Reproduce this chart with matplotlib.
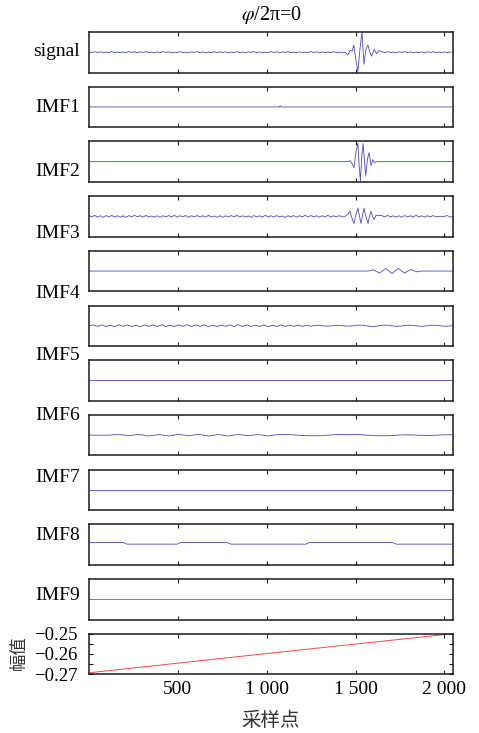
import numpy as np
import matplotlib
matplotlib.use('Agg')
import matplotlib.pyplot as plt

plt.rcParams['font.family'] = ['Liberation Serif', 'DejaVu Serif']
plt.rcParams['mathtext.fontset'] = 'stix'

# ---------------- data ----------------
N = 2048
title_text = r'$\varphi$/2π=0'
panel_labels = ['signal', 'IMF1', 'IMF2', 'IMF3', 'IMF4', 'IMF5', 'IMF6', 'IMF7', 'IMF8', 'IMF9']
xtick_vals = [500, 1000, 1500, 2000]
xtick_labels = ['500', '1 000', '1 500', '2 000']
res_ytick_vals = [-0.27, -0.265, -0.26, -0.255, -0.25]
res_ytick_labels = ['−0.27', '', '−0.26', '', '−0.25']
xlabel_text = '采样点'
ylabel_text = '幅值'

# signal: background jitter (every 16 samples) + burst
signal_pre = [0.02, -0.02, 0.03, -0.01, 0.02, -0.03, 0.01, -0.02, 0.03, -0.02,
              0.01, -0.03, 0.02, -0.02, 0.03, -0.01, 0.02, -0.03, 0.02, -0.01,
              0.03, -0.02, 0.01, -0.03, 0.02, -0.02, 0.03, -0.01, 0.02, -0.03,
              0.01, -0.02, 0.03, -0.02, 0.01, -0.03, 0.02, -0.01, 0.03, -0.02,
              0.02, -0.03, 0.01, -0.02, 0.03, -0.02, 0.02, -0.01, 0.02, -0.03,
              0.01, -0.02, 0.03, -0.02, 0.01, -0.03, 0.02, -0.01, 0.03, -0.02,
              0.02, -0.03, 0.01, -0.02, 0.03, -0.01, 0.02, -0.03, 0.02, -0.01,
              0.03, -0.02, 0.01, -0.03, 0.02, -0.02, 0.01, -0.02, 0.03, -0.01,
              0.02, -0.03, 0.02, -0.02, 0.01, -0.02, 0.03, -0.02, 0.01, -0.02,
              0.0]
signal_burst_x = [1457, 1470, 1480, 1490, 1500, 1513, 1525, 1536, 1547, 1558, 1570, 1580, 1590, 1604, 1618, 1632]
signal_burst_y = [-0.12, 0.1, 0.05, 0.35, -0.3, -0.95, 0.2, 1.0, -0.6, 0.15, 0.35, 0.0, -0.2, 0.15, -0.06, 0.08]
signal_post = [0.03, -0.02, 0.03, -0.02, 0.01, -0.03, 0.02, -0.01, 0.03, -0.02,
               0.02, -0.03, 0.01, -0.02, 0.02, -0.03, 0.02, -0.01, 0.03, -0.02,
               0.01, -0.02, 0.02, -0.03, 0.02, 0.0]

# IMF1: flat with a single tiny blip
imf1_x = [0, 1070, 1075, 1080, 2047]
imf1_y = [0.0, 0.0, 0.06, 0.0, 0.0]

# IMF2: burst only
imf2_x = [0, 1460, 1470, 1480, 1491, 1502, 1513, 1520, 1527, 1535, 1542, 1550, 1557, 1566, 1576, 1587, 1596, 1606, 1620, 2047]
imf2_y = [0.0, 0.0, 0.05, -0.1, -0.3, 0.5, 0.9, -0.2, -0.95, 0.3, 0.9, 0.0, -0.7, 0.1, 0.45, -0.2, 0.1, -0.05, 0.0, 0.0]

# IMF3: jitter (every 16 samples) + medium burst
imf3_pre = [0.04, -0.03, 0.05, -0.04, 0.03, -0.05, 0.04, -0.03, 0.05, -0.04,
            0.03, -0.04, 0.03, -0.05, 0.04, -0.03, 0.05, -0.02, 0.03, -0.04,
            0.05, -0.03, 0.02, -0.04, 0.03, -0.05, 0.03, -0.03, 0.04, -0.03,
            0.05, -0.04, 0.03, -0.02, 0.04, -0.05, 0.03, -0.03, 0.04, -0.03,
            0.03, -0.04, 0.05, -0.03, 0.02, -0.04, 0.03, -0.05, 0.03, -0.03,
            0.04, -0.03, 0.05, -0.03, 0.03, -0.04, 0.02, -0.05, 0.04, -0.03,
            0.03, -0.04, 0.05, -0.03, 0.03, -0.04, 0.04, -0.03, 0.02, -0.05,
            0.03, -0.03, 0.04, -0.04, 0.03, -0.03, 0.05, -0.03, 0.04, -0.03,
            0.03, -0.04, 0.03, -0.03, 0.05, -0.04, 0.03, -0.03, 0.04, -0.03,
            0.0]
imf3_burst_x = [1455, 1468, 1480, 1491, 1502, 1513, 1522, 1530, 1538, 1547, 1558, 1570, 1578, 1587, 1595, 1604, 1615, 1632]
imf3_burst_y = [0.1, 0.25, -0.1, -0.35, 0.1, 0.4, 0.0, -0.35, 0.0, 0.4, 0.0, -0.35, 0.0, 0.25, 0.0, -0.15, 0.05, 0.04]
imf3_post = [0.04, -0.03, 0.05, -0.03, 0.03, -0.04, 0.03, -0.05, 0.04, -0.03,
             0.03, -0.04, 0.05, -0.03, 0.03, -0.04, 0.03, -0.03, 0.04, -0.03,
             0.0, 0.0, 0.0, 0.04, -0.04, 0.0]

# IMF4: small wave packet
imf4_x = [0, 1570, 1600, 1635, 1670, 1705, 1740, 1775, 1810, 1845, 1870, 2047]
imf4_y = [0.0, 0.0, 0.06, -0.1, 0.13, -0.13, 0.13, -0.1, 0.08, -0.04, 0.0, 0.0]

# IMF5: fine wiggle (every 24 samples)
imf5_vals = [0.0, 0.04, -0.03, 0.04, -0.04, 0.03, -0.04, 0.05, -0.03, 0.04,
             -0.04, 0.03, -0.05, 0.04, -0.03, 0.04, -0.04, 0.05, -0.04, 0.03,
             -0.04, 0.04, -0.03, 0.05, -0.04, 0.04, -0.03, 0.04, -0.05, 0.03,
             -0.04, 0.04, -0.03, 0.04, -0.04, 0.05, -0.03, 0.04, -0.04, 0.03,
             -0.04, 0.04, -0.05, 0.03, -0.04, 0.04, -0.03, 0.03, -0.03, 0.03,
             -0.03, 0.02, -0.02,
             0.02, 0.02, -0.01, -0.02, 0.0, 0.02, 0.01, -0.01, -0.02, 0.0,
             0.03, 0.03, 0.0, -0.03, -0.03, 0.0, 0.03, 0.03, 0.0, -0.03,
             -0.02, 0.01, 0.03, 0.02, -0.01, -0.03, -0.01, 0.02, 0.03, 0.01,
             -0.02, -0.02, 0.0]
imf5_last = 0.0

# IMF6 flat
imf6_x = [0, 2047]
imf6_y = [0.0, 0.0]

# IMF7: slow wiggle (every 56 samples)
imf7_vals = [0.0, 0.0, 0.0, 0.04, -0.03, 0.04, -0.04, 0.03, -0.04, 0.04,
             -0.03, 0.04, -0.04, 0.03, -0.04, 0.04, -0.03, 0.03, -0.04, 0.03,
             0.03, 0.0, -0.03, -0.03, 0.0, 0.03, 0.03, 0.03, 0.0, -0.03,
             -0.03, 0.0, 0.02, 0.0, -0.02, 0.0, 0.02]
imf7_last = 0.02

# IMF8 flat
imf8_x = [0, 2047]
imf8_y = [0.0, 0.0]

# IMF9: step-like component
imf9_x = [0, 195, 215, 495, 515, 775, 800, 1220, 1240, 1705, 1730, 2047]
imf9_y = [0.1, 0.1, 0.02, 0.02, 0.1, 0.1, 0.02, 0.02, 0.1, 0.1, 0.02, 0.02]

# IMF10 flat
imf10_x = [0, 2047]
imf10_y = [0.0, 0.0]

# residual trend
res_x = [0, 1000, 2047]
res_y = [-0.2693, -0.2598, -0.2500]

# ---------------- assemble series ----------------
step16_pre = np.arange(0, 1441, 16)
step16_post = np.arange(1648, 2049, 16)
sig_x = np.concatenate([step16_pre, signal_burst_x, step16_post])
sig_y = np.concatenate([signal_pre, signal_burst_y, signal_post])
i3_x = np.concatenate([step16_pre, imf3_burst_x, step16_post])
i3_y = np.concatenate([imf3_pre, imf3_burst_y, imf3_post])
i5_x = np.append(np.arange(0, 24 * len(imf5_vals), 24), 2047)
i5_y = np.append(imf5_vals, imf5_last)
i7_x = np.append(np.arange(0, 56 * len(imf7_vals), 56), 2047)
i7_y = np.append(imf7_vals, imf7_last)

series = [
    (sig_x, sig_y), (imf1_x, imf1_y), (imf2_x, imf2_y), (i3_x, i3_y),
    (imf4_x, imf4_y), (i5_x, i5_y), (imf6_x, imf6_y), (i7_x, i7_y),
    (imf8_x, imf8_y), (imf9_x, imf9_y), (imf10_x, imf10_y),
]

# ---------------- layout ----------------
W, H = 479, 733
fig = plt.figure(figsize=(W / 100, H / 100), dpi=100)
left_px, right_px = 89, 453
top0, pitch, h_px = 32, 54.7, 40.5

blue = '#4a4ac4'
spine_col = '#1a1a1a'
axes = []
for i in range(12):
    top = top0 + i * pitch
    ax = fig.add_axes([left_px / W, 1 - (top + h_px) / H, (right_px - left_px) / W, h_px / H])
    for s in ax.spines.values():
        s.set_linewidth(1.1)
        s.set_color(spine_col)
    ax.set_xlim(0, N)
    ax.set_xticks(xtick_vals)
    ax.tick_params(axis='x', direction='in', top=True, bottom=True, length=3, width=0.8,
                   color=spine_col, labelbottom=False)
    axes.append(ax)

for i, (x, y) in enumerate(series):
    ax = axes[i]
    col = '#5a66a8' if i == 10 else blue
    ax.plot(x, y, color=col, lw=0.6)
    ax.set_ylim(-1.0, 1.0)
    ax.set_yticks([])

# residual
axr = axes[11]
axr.plot(res_x, res_y, color='#ff4646', lw=0.7)
axr.set_ylim(-0.27, -0.25)
axr.set_yticks(res_ytick_vals)
axr.set_yticklabels(res_ytick_labels)
axr.tick_params(axis='y', direction='in', left=True, right=True, length=3, width=0.8,
                color=spine_col, labelsize=13.5, pad=8)
axr.tick_params(axis='x', labelbottom=True, labelsize=14, pad=5)
axr.set_xticklabels(xtick_labels)

# panel labels
label_y_px = [52, 108, 172, 233, 293, 355, 415, 477, 536, 595]
for lab, yp in zip(panel_labels, label_y_px):
    fig.text(80 / W, 1 - yp / H, lab, ha='right', va='center', fontsize=14)

# title
fig.text(271 / W, 1 - 15 / H, title_text, ha='center', va='center', fontsize=14.5)

# axis labels
fig.text(271 / W, 1 - 721 / H, xlabel_text, ha='center', va='center', fontsize=14,
         family=['Noto Sans CJK SC', 'DejaVu Sans'], color='#333333')
fig.text(19 / W, 1 - 653 / H, ylabel_text, ha='center', va='center', fontsize=12.5,
         rotation=90, family=['Noto Sans CJK SC', 'DejaVu Sans'], color='#333333')

fig.savefig('out.png', dpi=100)
